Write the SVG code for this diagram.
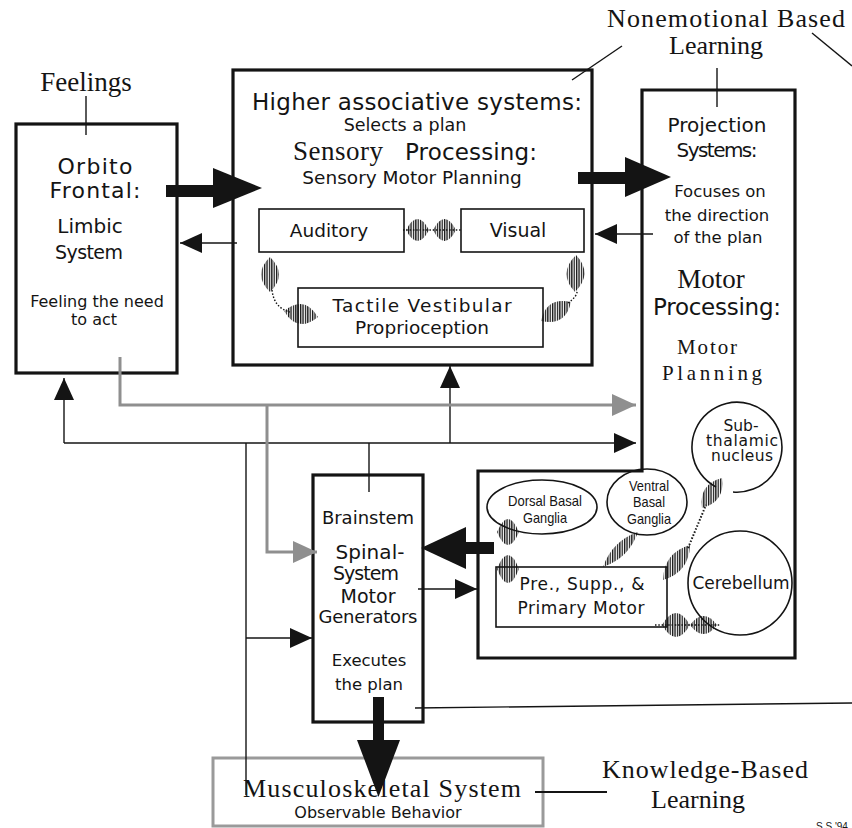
<svg xmlns="http://www.w3.org/2000/svg" width="852" height="828" viewBox="0 0 852 828">
<defs>
<style>
.box{fill:none;stroke:#141414;stroke-width:3.2}
.sub{fill:none;stroke:#141414;stroke-width:1.6}
.ln{fill:none;stroke:#141414;stroke-width:1.4}
.gr{fill:none;stroke:#8f8f8f;stroke-width:3}
.grbox{fill:none;stroke:#9a9a9a;stroke-width:3}
.solid{fill:#141414}
.hatch{fill:url(#vh)}
.dot{fill:none;stroke:#141414;stroke-width:1.4;stroke-dasharray:1.5 1.8}
text{fill:#141414}
.sans{font-family:"DejaVu Sans",Verdana,sans-serif}
.serif{font-family:"Liberation Serif","Times New Roman",serif}
.narrow{font-family:"Liberation Sans",Arial,sans-serif}
</style>
<pattern id="vh" width="2.4" height="8" patternUnits="userSpaceOnUse"><rect width="1.3" height="8" fill="#141414"/></pattern>
<marker id="ah" viewBox="0 0 22 20" refX="22" refY="10" markerWidth="22" markerHeight="20" markerUnits="userSpaceOnUse" orient="auto"><path d="M0,0 L22,10 L0,20 Z" fill="#141414"/></marker>
<marker id="ahg" viewBox="0 0 24 22" refX="24" refY="11" markerWidth="24" markerHeight="22" markerUnits="userSpaceOnUse" orient="auto"><path d="M0,0 L24,11 L0,22 Z" fill="#8f8f8f"/></marker>
</defs>
<rect width="852" height="828" fill="#fff"/>

<!-- labels -->
<g id="label-feelings"><text class="serif" x="86" y="91" font-size="27" text-anchor="middle">Feelings</text></g>
<g id="label-nonemotional">
<text class="serif" x="726" y="27" font-size="26" text-anchor="middle" textLength="238">Nonemotional Based</text>
<text class="serif" x="716" y="54" font-size="26" text-anchor="middle">Learning</text>
</g>
<g id="label-knowledge">
<text class="serif" x="705" y="778" font-size="26" text-anchor="middle" textLength="206">Knowledge-Based</text>
<text class="serif" x="698" y="808" font-size="26" text-anchor="middle">Learning</text>
</g>
<text class="narrow" x="816" y="830" font-size="10">S.S.'94</text>

<!-- nodes -->
<g id="orbito-frontal">
<rect class="box" x="16" y="124" width="161" height="249"/>
<text class="sans" x="95" y="174" font-size="22" text-anchor="middle" textLength="75">Orbito</text>
<text class="sans" x="95" y="198" font-size="22" text-anchor="middle" textLength="91">Frontal:</text>
<text class="sans" x="90" y="233" font-size="20" text-anchor="middle">Limbic</text>
<text class="sans" x="89" y="259" font-size="19" text-anchor="middle" textLength="68">System</text>
<text class="sans" x="97" y="307" font-size="16" text-anchor="middle">Feeling the need</text>
<text class="sans" x="94" y="325" font-size="16" text-anchor="middle">to act</text>
</g>

<g id="higher-associative">
<rect class="box" x="233" y="70" width="359" height="295"/>
<text class="sans" x="417" y="110" font-size="23" text-anchor="middle" textLength="330">Higher associative systems:</text>
<text class="sans" x="405" y="131" font-size="17.5" text-anchor="middle">Selects a plan</text>
<text class="serif" x="293" y="160" font-size="27" textLength="90">Sensory</text>
<text class="sans" x="405" y="160" font-size="23" textLength="132">Processing:</text>
<text class="sans" x="412" y="184" font-size="18.5" text-anchor="middle">Sensory Motor Planning</text>
</g>

<g id="auditory">
<rect class="sub" x="259" y="209" width="145" height="43"/>
<text class="sans" x="329" y="237" font-size="18.5" text-anchor="middle">Auditory</text>
</g>
<g id="visual">
<rect class="sub" x="461" y="209" width="123" height="43"/>
<text class="sans" x="518" y="237" font-size="19" text-anchor="middle">Visual</text>
</g>
<g id="tactile">
<rect class="sub" x="298" y="288" width="245" height="59"/>
<text class="sans" x="422" y="312" font-size="18.5" text-anchor="middle" textLength="179">Tactile  Vestibular</text>
<text class="sans" x="422" y="334" font-size="18.5" text-anchor="middle">Proprioception</text>
</g>

<g id="projection-motor">
<path class="box" d="M642,471 V90 H795 V658 H478 V471 Z"/>
<text class="sans" x="717" y="132" font-size="20" text-anchor="middle">Projection</text>
<text class="sans" x="717" y="157" font-size="20" text-anchor="middle" textLength="81">Systems:</text>
<text class="sans" x="720" y="197" font-size="16.5" text-anchor="middle">Focuses on</text>
<text class="sans" x="717" y="221" font-size="16.5" text-anchor="middle">the direction</text>
<text class="sans" x="718" y="243" font-size="16.5" text-anchor="middle">of the plan</text>
<text class="serif" x="711" y="288" font-size="27" text-anchor="middle">Motor</text>
<text class="sans" x="717" y="315" font-size="23" text-anchor="middle" textLength="128">Processing:</text>
<text class="serif" x="707" y="354" font-size="21" text-anchor="middle" textLength="60">Motor</text>
<text class="serif" x="712" y="380" font-size="21" text-anchor="middle" textLength="100">Planning</text>
</g>

<g id="brainstem">
<rect class="box" x="313" y="475" width="110" height="247"/>
<text class="sans" x="368" y="524" font-size="18" text-anchor="middle">Brainstem</text>
<text class="sans" x="370" y="559" font-size="20" text-anchor="middle" textLength="69">Spinal-</text>
<text class="sans" x="366" y="580" font-size="19" text-anchor="middle" textLength="66">System</text>
<text class="sans" x="368" y="603" font-size="19" text-anchor="middle">Motor</text>
<text class="sans" x="368" y="623" font-size="18" text-anchor="middle" textLength="99">Generators</text>
<text class="sans" x="369" y="666" font-size="16.5" text-anchor="middle">Executes</text>
<text class="sans" x="369" y="690" font-size="16.5" text-anchor="middle">the plan</text>
</g>

<g id="dorsal-basal-ganglia">
<ellipse class="sub" cx="542" cy="507" rx="55" ry="27"/>
<text class="narrow" x="545" y="506" font-size="15" text-anchor="middle" textLength="74" lengthAdjust="spacingAndGlyphs">Dorsal Basal</text>
<text class="narrow" x="545" y="523" font-size="15" text-anchor="middle" textLength="44" lengthAdjust="spacingAndGlyphs">Ganglia</text>
</g>
<g id="ventral-basal-ganglia">
<ellipse class="sub" cx="647" cy="502" rx="40" ry="33"/>
<text class="narrow" x="649" y="491" font-size="15" text-anchor="middle" textLength="40" lengthAdjust="spacingAndGlyphs">Ventral</text>
<text class="narrow" x="649" y="507" font-size="15" text-anchor="middle" textLength="32" lengthAdjust="spacingAndGlyphs">Basal</text>
<text class="narrow" x="649" y="524" font-size="15" text-anchor="middle" textLength="44" lengthAdjust="spacingAndGlyphs">Ganglia</text>
</g>
<g id="subthalamic-nucleus">
<path class="sub" d="M716,487 A45,45 0 1 1 733,492"/>
<text class="sans" x="741" y="431" font-size="15.5" text-anchor="middle">Sub-</text>
<text class="sans" x="742" y="446" font-size="15.5" text-anchor="middle" textLength="72">thalamic</text>
<text class="sans" x="742" y="461" font-size="15.5" text-anchor="middle" textLength="62">nucleus</text>
</g>
<g id="cerebellum">
<circle class="sub" cx="740" cy="583" r="52"/>
<text class="sans" x="741" y="589" font-size="17" text-anchor="middle" textLength="97">Cerebellum</text>
</g>
<g id="motor-cortex">
<rect class="sub" x="496" y="567" width="171" height="60"/>
<text class="sans" x="582" y="590" font-size="17" text-anchor="middle" textLength="125">Pre., Supp., &amp;</text>
<text class="sans" x="581" y="614" font-size="17" text-anchor="middle" textLength="127">Primary  Motor</text>
</g>

<g id="musculoskeletal">
<rect class="grbox" x="213" y="758" width="330" height="68"/>
<text class="serif" x="382" y="797" font-size="26" text-anchor="middle" textLength="278">Musculoskeletal System</text>
<text class="sans" x="378" y="818" font-size="16" text-anchor="middle">Observable Behavior</text>
</g>

<!-- connectors -->
<g id="connectors">
<!-- label leaders -->
<line class="ln" x1="86" y1="96" x2="86" y2="135"/>
<line class="ln" x1="572" y1="80" x2="622" y2="46"/>
<line class="ln" x1="812" y1="33" x2="852" y2="66"/>
<line class="ln" x1="717" y1="68" x2="717" y2="107"/>
<line class="ln" x1="535" y1="792" x2="607" y2="792" style="stroke-width:2"/>

<!-- bold arrows -->
<rect class="solid" x="166" y="185" width="49" height="12"/>
<path class="solid" d="M213,168 L262,188 L213,208 Z"/>
<rect class="solid" x="578" y="172" width="49" height="12"/>
<path class="solid" d="M625,157 L671,177 L625,197 Z"/>
<rect class="solid" x="464" y="542" width="30" height="12"/>
<path class="solid" d="M466,527 L421,548 L466,569 Z"/>
<rect class="solid" x="373" y="697" width="11" height="45"/>
<path class="solid" d="M357,740 L378.5,797 L400,740 Z"/>

<!-- thin arrows -->
<path class="ln" d="M237,243 H180" marker-end="url(#ah)"/>
<path class="ln" d="M653,234 H595" marker-end="url(#ah)"/>
<path class="ln" d="M64,443 V378" marker-end="url(#ah)"/>
<path class="ln" d="M64,443 H636" marker-end="url(#ah)"/>
<path class="ln" d="M450,443 V366" marker-end="url(#ah)"/>
<path class="ln" d="M246,443 V795"/>
<path class="ln" d="M246,638 H312" marker-end="url(#ah)"/>
<path class="ln" d="M369,443 V492"/>
<path class="ln" d="M418,589 H477" marker-end="url(#ah)"/>
<path class="ln" d="M415,708 L852,703"/>

<!-- grey feedback arrows -->
<path class="gr" d="M120,357 V405 H636" marker-end="url(#ahg)"/>
<path class="gr" d="M267,405 V552 H317" marker-end="url(#ahg)"/>

<!-- hatched links -->
<path class="dot" d="M403,230 H461"/>
<path class="hatch" d="M406,230 Q417.5,208 429,230 Q417.5,252 406,230 Z"/>
<path class="hatch" d="M433,230 Q444.5,208 456,230 Q444.5,252 433,230 Z"/>

<path class="dot" d="M272,290 Q274,308 290,312"/>
<path class="hatch" d="M270,257 Q288,274.5 270,292 Q252,274.5 270,257 Z"/>
<path class="hatch" d="M284,311 Q297.5,333.7 318,317 Q304.5,294.3 284,311 Z"/>

<path class="dot" d="M568,303 Q578,296 577,290"/>
<path class="hatch" d="M541,321 Q565.6,326.7 571,302 Q546.4,296.3 541,321 Z"/>
<path class="hatch" d="M576,255 Q593.5,273.5 575,292 Q557.5,273.5 576,255 Z"/>

<path class="hatch" d="M497,532 Q508,506 519,532 Q508,558 497,532 Z"/>
<path class="hatch" d="M497,569 Q508,541 519,569 Q508,597 497,569 Z"/>

<path class="hatch" d="M603,567 Q629,558 638,532 Q612,541 603,567 Z"/>

<path class="dot" d="M688,548 L706,505" style="stroke-width:2"/>
<path class="hatch" d="M663,580 Q689.2,572.3 690,545 Q663.8,552.7 663,580 Z"/>
<path class="hatch" d="M702,508 Q725.3,501.9 722,478 Q698.7,484.1 702,508 Z"/>

<path class="dot" d="M655,625 H720"/>
<path class="hatch" d="M662,625 Q676,601 690,625 Q676,649 662,625 Z"/>
<path class="hatch" d="M690,625 Q703.5,607 717,625 Q703.5,643 690,625 Z"/>
</g>
</svg>
